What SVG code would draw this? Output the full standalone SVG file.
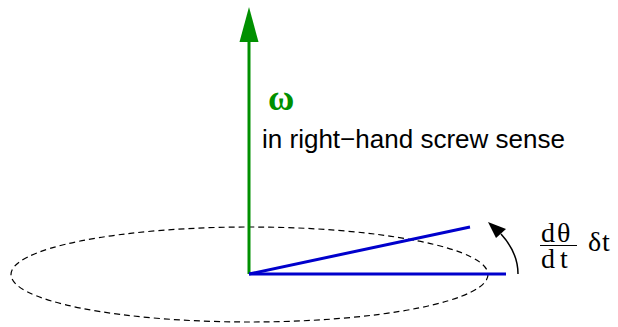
<svg xmlns="http://www.w3.org/2000/svg" width="618" height="327" viewBox="0 0 618 327">
<style>
.serif{font-family:"Liberation Serif","Times New Roman",serif;fill:#000;font-size:28px}
.sans{font-family:"Liberation Sans",Arial,sans-serif;fill:#000;font-size:26px}
</style>
<rect width="618" height="327" fill="#fff"/>
<g id="circle">
<ellipse cx="249.5" cy="274.5" rx="238.5" ry="47.5" fill="none" stroke="#000" stroke-width="1.2" stroke-dasharray="6,4"/>
</g>
<g id="connectors">
<line x1="249" y1="274" x2="249" y2="42" stroke="#009000" stroke-width="3"/>
<path d="M249,7 L258.5,42 L239.5,42 Z" fill="#009000"/>
<line x1="249" y1="274" x2="506" y2="274" stroke="#0000cc" stroke-width="3"/>
<line x1="249" y1="274" x2="470" y2="227" stroke="#0000cc" stroke-width="3"/>
<path d="M518,274 C518,258 512,246 501,234" fill="none" stroke="#000" stroke-width="1.5"/>
<path d="M488,222 L506,229 L496,238 Z" fill="#000"/>
</g>
<g id="omega-label">
<text x="268" y="110" font-family="Liberation Serif,serif" font-size="36" font-weight="bold" fill="#009000">ω</text>
</g>
<g id="sense-label">
<text class="sans" x="262" y="148" textLength="303" lengthAdjust="spacingAndGlyphs">in right−hand screw sense</text>
</g>
<g id="angle-label">
<text class="serif" x="541" y="242">d</text>
<text class="serif" x="557" y="242">θ</text>
<line x1="540" y1="245.5" x2="577" y2="245.5" stroke="#000" stroke-width="1.2"/>
<text class="serif" x="541" y="268">d</text>
<text class="serif" x="560" y="268">t</text>
<text class="serif" x="588" y="251">δ</text>
<text class="serif" x="602" y="251">t</text>
</g>
</svg>
